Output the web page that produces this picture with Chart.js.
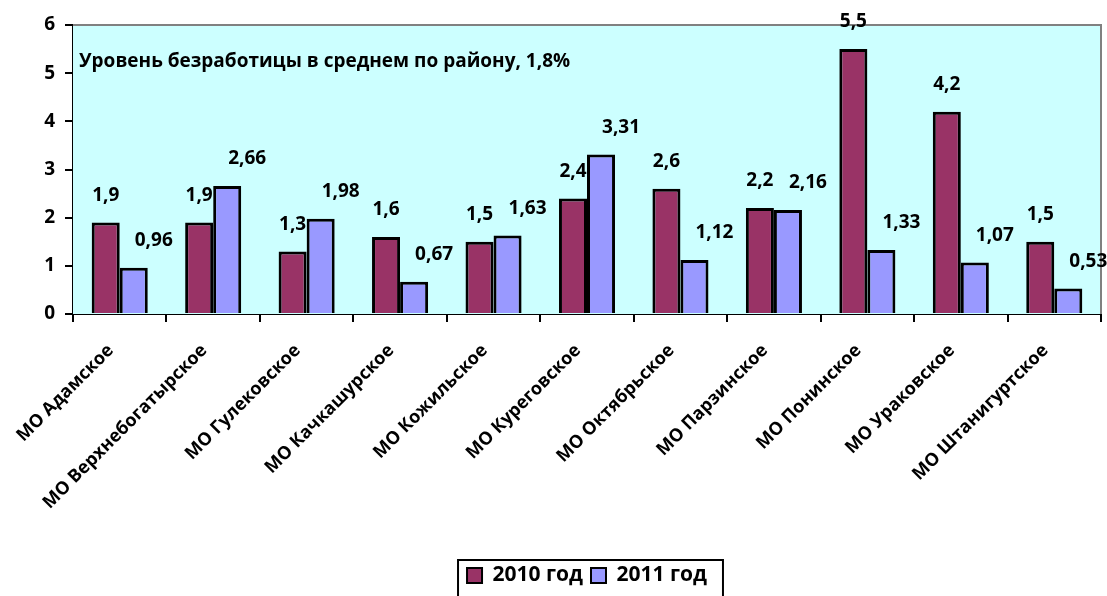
<!DOCTYPE html>
<html>
<head>
<meta charset="utf-8">
<script src="https://cdn.jsdelivr.net/npm/chart.js@4"></script>
<style>
  html, body { margin: 0; padding: 0; background: #fff; }
  #wrap { width: 1107px; height: 596px; }
</style>
</head>
<body>
<div id="wrap"><canvas id="chart"></canvas></div>
<script>
// ── Data ──────────────────────────────────────────────────────────────────────
const districts = [
  "МО Адамское", "МО Верхнебогатырское", "МО Гулековское", "МО Качкашурское",
  "МО Кожильское", "МО Куреговское", "МО Октябрьское", "МО Парзинское",
  "МО Понинское", "МО Ураковское", "МО Штанигуртское",
];
const rate2010 = [1.9, 1.9, 1.3, 1.6, 1.5, 2.4, 2.6, 2.2, 5.5, 4.2, 1.5];
const rate2011 = [0.96, 2.66, 1.98, 0.67, 1.63, 3.31, 1.12, 2.16, 1.33, 1.07, 0.53];
const yTicks = [0, 1, 2, 3, 4, 5, 6];
const note = "Уровень безработицы в среднем по району, 1,8%";

const FONT = "'Open Sans', 'Noto Sans', sans-serif";

const fmt = (v) => String(v).replace(".", ",");

// plot background, note and value labels
const decor = {
  id: "decor",
  beforeDatasetsDraw(chart) {
    const { ctx, chartArea: a } = chart;
    ctx.save();
    ctx.fillStyle = "#CCFFFF";
    ctx.fillRect(a.left, a.top, a.right - a.left, a.bottom - a.top);
    ctx.strokeStyle = "#808080";
    ctx.lineWidth = 2;
    ctx.beginPath();
    ctx.moveTo(a.left, a.top);
    ctx.lineTo(a.right, a.top);
    ctx.lineTo(a.right, a.bottom);
    ctx.stroke();
    ctx.fillStyle = "#000";
    ctx.font = "bold 19px " + FONT;
    ctx.textBaseline = "middle";
    ctx.textAlign = "left";
    ctx.fillText(note, a.left + 6, 62);
    ctx.restore();
  },
  afterDatasetsDraw(chart) {
    const { ctx } = chart;
    ctx.save();
    ctx.fillStyle = "#000";
    ctx.font = "bold 19px " + FONT;
    ctx.textAlign = "center";
    ctx.textBaseline = "middle";
    chart.data.datasets.forEach((ds, i) => {
      const shift = i === 1 ? 20 : 0;
      chart.getDatasetMeta(i).data.forEach((bar, j) => {
        ctx.fillText(fmt(ds.data[j]), bar.x + shift, bar.y - 27);
      });
    });
    ctx.restore();
  },
  afterDraw(chart) {
    const lg = chart.legend;
    if (!lg || !lg.legendHitBoxes.length) return;
    const boxes = lg.legendHitBoxes;
    const last = boxes[boxes.length - 1];
    const l = boxes[0].left - 9;
    const r = last.left + last.width + 16;
    const { ctx } = chart;
    ctx.save();
    ctx.strokeStyle = "#000";
    ctx.lineWidth = 2;
    ctx.strokeRect(l, 560, r - l, 40);
    ctx.restore();
  },
};

new Chart(document.getElementById("chart"), {
  type: "bar",
  data: {
    labels: districts,
    datasets: [
      {
        label: "2010 год",
        data: rate2010,
        backgroundColor: "#993366",
        borderColor: "#000",
        borderWidth: 3,
      },
      {
        label: "2011 год",
        data: rate2011,
        backgroundColor: "#9999FF",
        borderColor: "#000",
        borderWidth: 3,
      },
    ],
  },
  options: {
    responsive: true,
    maintainAspectRatio: false,
    animation: false,
    layout: { padding: { top: 25, right: 6, left: 0, bottom: 0 } },
    datasets: { bar: { barPercentage: 1, categoryPercentage: 0.6 } },
    plugins: {
      legend: {
        position: "bottom",
        fullSize: false,
        labels: {
          color: "#000",
          font: { family: FONT, size: 21, weight: "bold" },
          boxWidth: 15,
          boxHeight: 15,
          padding: 8,
          generateLabels: (chart) =>
            chart.data.datasets.map((ds, i) => ({
              text: ds.label,
              fillStyle: ds.backgroundColor,
              strokeStyle: "#000",
              lineWidth: 2,
              datasetIndex: i,
            })),
        },
      },
      tooltip: { enabled: false },
    },
    scales: {
      x: {
        grid: {
          display: true,
          drawOnChartArea: false,
          drawTicks: true,
          tickLength: 8,
          color: "#000",
          lineWidth: 2,
        },
        border: { color: "#000", width: 2 },
        ticks: {
          color: "#000",
          font: { family: FONT, size: 18, weight: "bold" },
          minRotation: 45,
          maxRotation: 45,
          autoSkip: false,
          padding: 18,
          labelOffset: -9,
        },
        afterFit: (s) => { s.height = 243; },
      },
      y: {
        min: 0,
        max: 6,
        afterBuildTicks: (s) => { s.ticks = yTicks.map((v) => ({ value: v })); },
        grid: {
          display: true,
          drawOnChartArea: false,
          drawTicks: true,
          tickLength: 8,
          color: "#000",
          lineWidth: 2,
        },
        border: { color: "#000", width: 2 },
        ticks: {
          color: "#000",
          font: { family: FONT, size: 19, weight: "bold" },
          padding: 10,
        },
        afterFit: (s) => { s.width = 73; },
      },
    },
  },
  plugins: [decor],
});
</script>
</body>
</html>
